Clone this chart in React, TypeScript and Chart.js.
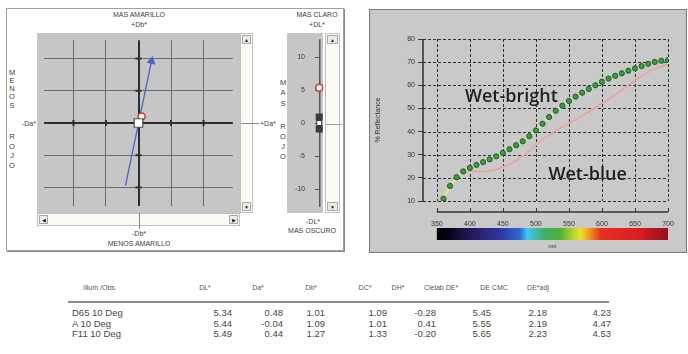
import React, { useEffect, useRef } from "react";
import { Chart, registerables } from "chart.js";
Chart.register(...registerables);

// ---------------- data ----------------
// a*b* diagram
const abGridValues = [-10, -5, 0, 5, 10];
const abRangeX = [-14.5, 14.5];
const abRangeY = [-12.85, 12.85];
const hueLineDa = [-2.0, 2.0];
const hueLineDb = [-9.7, 9.6];

// L* slider
const lTickValues = [-10, -5, 0, 5, 10];
const lTickLabels = ["-10", "-5", "0", "5", "10"];
const lRange = [-12.7, 12.7];
const standardMarksL = [-0.9, 0.9];

// reflectance curves
const wavelengths = [360, 370, 380, 390, 400, 410, 420, 430, 440, 450, 460, 470, 480, 490, 500, 510, 520, 530, 540, 550, 560, 570, 580, 590, 600, 610, 620, 630, 640, 650, 660, 670, 680, 690, 700];
const wetBright = [11.0, 16.5, 20.3, 22.8, 24.3, 25.6, 26.8, 28.0, 29.3, 30.8, 32.4, 34.1, 35.8, 38.0, 40.5, 43.4, 46.3, 49.0, 51.2, 53.2, 55.1, 56.8, 58.4, 60.0, 61.5, 62.9, 64.1, 65.2, 66.3, 67.3, 68.3, 69.3, 70.1, 70.6, 70.9];
const wetBlue = [null, null, null, 23.0, 23.0, 22.7, 22.7, 23.0, 23.7, 24.8, 26.0, 27.4, 29.3, 31.6, 34.2, 36.5, 38.5, 40.3, 42.0, 43.6, 45.1, 46.8, 48.5, 50.3, 52.2, 54.1, 56.0, 58.0, 60.0, 62.0, 63.9, 65.6, 67.0, 68.2, 69.0];
const xTickValues = [350, 400, 450, 500, 550, 600, 650, 700];
const yTickValues = [10, 20, 30, 40, 50, 60, 70, 80];
const spectrumNm = [350, 372, 400, 446, 476, 487, 514, 537, 555, 568, 583, 598, 659, 700];
const spectrumColors = ["#000000", "#0c0620", "#24185a", "#3036a0", "#2a6ad0", "#40c8f0", "#40b060", "#50b030", "#b0d030", "#f0e030", "#f08a20", "#e83020", "#d81c20", "#901020"];

// table
const tableHeaders = ["Illum./Obs.", "DL*", "Da*", "Db*", "DC*", "DH*", "Cielab DE*", "DE CMC", "DE*adj"];
const illuminants = ["D65 10 Deg", "A 10 Deg", "F11 10 Deg"];
const dL = [5.34, 5.44, 5.49];
const dA = [0.48, -0.04, 0.44];
const dB = [1.01, 1.09, 1.27];
const dC = [1.09, 1.01, 1.33];
const dH = [-0.28, 0.41, -0.2];
const deCielab = [5.45, 5.55, 5.65];
const deCmc = [2.18, 2.19, 2.23];
const deAdj = [4.23, 4.47, 4.53];

// ---------------- helpers ----------------
const FONT = '"Liberation Sans", Arial, sans-serif';

function Label(props: { x: number; y: number; text: string; size?: number; align?: string; color?: string; weight?: number }) {
  const { x, y, text, size = 7, align = "center", color = "#3c3c3c", weight = 400 } = props;
  const tf = align === "center" ? "translate(-50%,-50%)" : align === "right" ? "translate(-100%,-50%)" : "translate(0,-50%)";
  return (
    <div style={{ position: "absolute", left: x, top: y, transform: tf, fontSize: size, lineHeight: 1, color, whiteSpace: "nowrap", fontFamily: FONT, fontWeight: weight }}>
      {text}
    </div>
  );
}

function VLetters(props: { x: number; ys: number[]; letters: string }) {
  return (
    <>
      {props.letters.split("").map((ch, i) => (
        <Label key={i} x={props.x} y={props.ys[i]} text={ch} size={7.5} />
      ))}
    </>
  );
}

function ScrollBar(props: { left: number; top: number; width: number; height: number; vertical: boolean }) {
  const { left, top, width, height, vertical } = props;
  const btnBase: any = {
    position: "absolute",
    background: "#ecece4",
    border: "1px solid #a8a8a8",
    boxSizing: "border-box",
    fontSize: 5,
    color: "#222",
    display: "flex",
    alignItems: "center",
    justifyContent: "center",
    fontFamily: FONT,
  };
  return (
    <div style={{ position: "absolute", left, top, width, height, background: "#fbfbf2", border: "1px solid #c0c0c0", boxSizing: "border-box" }}>
      {vertical ? (
        <>
          <div style={{ ...btnBase, left: 1, top: 1, width: width - 4, height: 9 }}>▲</div>
          <div style={{ ...btnBase, left: 1, bottom: 1, width: width - 4, height: 9 }}>▼</div>
        </>
      ) : (
        <>
          <div style={{ ...btnBase, left: 1, top: 1, width: 9, height: height - 4 }}>◀</div>
          <div style={{ ...btnBase, right: 1, top: 1, width: 9, height: height - 4 }}>▶</div>
        </>
      )}
    </div>
  );
}

// ---------------- a*b* chart ----------------
function AbChart() {
  const ref = useRef<HTMLCanvasElement>(null);
  useEffect(() => {
    const axisMarks = {
      id: "axisMarks",
      beforeDatasetsDraw(chart: any) {
        const { ctx, scales } = chart;
        const x0 = scales.x.getPixelForValue(0);
        const y0 = scales.y.getPixelForValue(0);
        ctx.save();
        ctx.strokeStyle = "#2e2e2e";
        ctx.lineWidth = 2;
        abGridValues.forEach((v) => {
          if (v === 0) return;
          const px = scales.x.getPixelForValue(v);
          ctx.beginPath();
          ctx.moveTo(px, y0 - 3);
          ctx.lineTo(px, y0 + 3);
          ctx.stroke();
          const py = scales.y.getPixelForValue(v);
          ctx.beginPath();
          ctx.moveTo(x0 - 3, py);
          ctx.lineTo(x0 + 3, py);
          ctx.stroke();
        });
        ctx.restore();
      },
    };
    const gridColor = (c: any) => (c.tick && c.tick.value === 0 ? "#2e2e2e" : "#6c6c6c");
    const gridWidth = (c: any) => (c.tick && c.tick.value === 0 ? 2 : 1);
    const chart = new Chart(ref.current as HTMLCanvasElement, {
      type: "scatter",
      data: {
        datasets: [
          {
            data: [{ x: 0, y: 0 }],
            pointStyle: "rect",
            pointRadius: 6,
            pointBorderWidth: 1.2,
            pointBorderColor: "#505050",
            pointBackgroundColor: "#ffffff",
          },
          {
            data: [{ x: dA[0], y: dB[0] }],
            pointStyle: "circle",
            pointRadius: 3.5,
            pointBorderWidth: 1.5,
            pointBorderColor: "#c0392b",
            pointBackgroundColor: "#ffffff",
          },
          {
            data: hueLineDa.map((a, i) => ({ x: a, y: hueLineDb[i] })),
            showLine: true,
            borderColor: "#5064cc",
            borderWidth: 1.3,
            pointStyle: "triangle",
            pointRadius: [0, 4],
            pointRotation: 12,
            pointBackgroundColor: "#5064cc",
            pointBorderColor: "#5064cc",
          },
        ],
      } as any,
      plugins: [axisMarks],
      options: {
        animation: false,
        responsive: false,
        layout: { padding: 0 },
        plugins: { legend: { display: false }, tooltip: { enabled: false } },
        scales: {
          x: {
            type: "linear",
            min: abRangeX[0],
            max: abRangeX[1],
            afterBuildTicks: (a: any) => {
              a.ticks = abGridValues.map((v) => ({ value: v }));
            },
            afterFit: (a: any) => {
              a.height = 0;
            },
            ticks: { display: false },
            grid: { color: gridColor, lineWidth: gridWidth, drawTicks: false },
            border: { display: false },
          },
          y: {
            type: "linear",
            min: abRangeY[0],
            max: abRangeY[1],
            afterBuildTicks: (a: any) => {
              a.ticks = abGridValues.map((v) => ({ value: v }));
            },
            afterFit: (a: any) => {
              a.width = 0;
            },
            ticks: { display: false },
            grid: { color: gridColor, lineWidth: gridWidth, drawTicks: false },
            border: { display: false },
          },
        },
      } as any,
    });
    return () => chart.destroy();
  }, []);
  return <canvas ref={ref} width={203} height={180} style={{ position: "absolute", left: 37, top: 33, background: "#c6c6c6" }} />;
}

// ---------------- L* slider ----------------
function SliderChart() {
  const ref = useRef<HTMLCanvasElement>(null);
  useEffect(() => {
    const tickDashes = {
      id: "tickDashes",
      beforeDatasetsDraw(chart: any) {
        const { ctx, scales, chartArea } = chart;
        const x0 = scales.x.getPixelForValue(0);
        ctx.save();
        ctx.strokeStyle = "#505050";
        ctx.lineWidth = 1;
        lTickValues.forEach((v) => {
          const py = Math.round(scales.y.getPixelForValue(v)) + 0.5;
          ctx.beginPath();
          ctx.moveTo(chartArea.left, py);
          ctx.lineTo(x0, py);
          ctx.stroke();
        });
        ctx.restore();
      },
    };
    const chart = new Chart(ref.current as HTMLCanvasElement, {
      type: "scatter",
      data: {
        datasets: [
          {
            data: [{ x: 0, y: 0 }],
            pointStyle: "rect",
            pointRadius: 3.5,
            pointBorderWidth: 1,
            pointBorderColor: "#333333",
            pointBackgroundColor: "#ffffff",
          },
          {
            data: standardMarksL.map((v) => ({ x: 0, y: v })),
            pointStyle: "rect",
            pointRadius: 5,
            pointBorderWidth: 0,
            pointBackgroundColor: "#3a3a3a",
          },
          {
            data: [{ x: 0, y: dL[0] }],
            pointStyle: "circle",
            pointRadius: 3.5,
            pointBorderWidth: 1.5,
            pointBorderColor: "#c0392b",
            pointBackgroundColor: "#ffffff",
          },
        ],
      } as any,
      plugins: [tickDashes],
      options: {
        animation: false,
        responsive: false,
        layout: { padding: 0 },
        plugins: { legend: { display: false }, tooltip: { enabled: false } },
        scales: {
          x: {
            type: "linear",
            min: -1,
            max: 1,
            afterBuildTicks: (a: any) => {
              a.ticks = [{ value: 0 }];
            },
            afterFit: (a: any) => {
              a.height = 0;
            },
            ticks: { display: false },
            grid: { color: "#555555", lineWidth: 1.5, drawTicks: false },
            border: { display: false },
          },
          y: {
            type: "linear",
            min: lRange[0],
            max: lRange[1],
            afterBuildTicks: (a: any) => {
              a.ticks = lTickValues.map((v) => ({ value: v }));
            },
            afterFit: (a: any) => {
              a.width = 28;
            },
            ticks: {
              display: true,
              padding: 2,
              color: "#3a3a3a",
              font: { family: FONT, size: 7 },
              callback: (v: any) => lTickLabels[lTickValues.indexOf(v)],
            },
            grid: { display: false },
            border: { display: false },
          },
        },
      } as any,
    });
    return () => chart.destroy();
  }, []);
  return <canvas ref={ref} width={42} height={180} style={{ position: "absolute", left: 287, top: 33 }} />;
}

// ---------------- reflectance chart ----------------
function ReflectanceChart() {
  const ref = useRef<HTMLCanvasElement>(null);
  useEffect(() => {
    const decorations = {
      id: "decorations",
      beforeDatasetsDraw(chart: any) {
        const { ctx, chartArea, scales } = chart;
        ctx.save();
        // dashed grid
        ctx.strokeStyle = "#303030";
        ctx.lineWidth = 1;
        ctx.setLineDash([3, 2]);
        xTickValues.forEach((v) => {
          const px = Math.round(scales.x.getPixelForValue(v)) + 0.5;
          ctx.beginPath();
          ctx.moveTo(px, chartArea.top);
          ctx.lineTo(px, chartArea.bottom);
          ctx.stroke();
        });
        yTickValues.forEach((v) => {
          const py = Math.round(scales.y.getPixelForValue(v)) + 0.5;
          ctx.beginPath();
          ctx.moveTo(chartArea.left, py);
          ctx.lineTo(chartArea.right, py);
          ctx.stroke();
        });
        ctx.setLineDash([]);
        // solid left axis
        ctx.strokeStyle = "#2a2a2a";
        ctx.lineWidth = 1.5;
        ctx.beginPath();
        ctx.moveTo(chartArea.left, chartArea.top);
        ctx.lineTo(chartArea.left, chartArea.bottom);
        ctx.stroke();
        ctx.restore();
      },
      afterDraw(chart: any) {
        const { ctx, chartArea, scales } = chart;
        const xs = scales.x;
        const x0 = xs.getPixelForValue(spectrumNm[0]);
        const x1 = xs.getPixelForValue(spectrumNm[spectrumNm.length - 1]);
        const ay = chartArea.bottom + 11;
        ctx.save();
        ctx.strokeStyle = "#333333";
        ctx.lineWidth = 1.5;
        ctx.beginPath();
        ctx.moveTo(x0, ay);
        ctx.lineTo(x1, ay);
        ctx.stroke();
        ctx.lineWidth = 1;
        xTickValues.forEach((v) => {
          const px = Math.round(xs.getPixelForValue(v)) + 0.5;
          ctx.beginPath();
          ctx.moveTo(px, ay);
          ctx.lineTo(px, ay - 4);
          ctx.stroke();
        });
        const g = ctx.createLinearGradient(x0, 0, x1, 0);
        spectrumNm.forEach((nm, i) => {
          g.addColorStop((nm - spectrumNm[0]) / (spectrumNm[spectrumNm.length - 1] - spectrumNm[0]), spectrumColors[i]);
        });
        ctx.fillStyle = g;
        ctx.fillRect(x0, chartArea.bottom + 27, x1 - x0, 12);
        ctx.fillStyle = "#333333";
        ctx.font = "6px " + FONT;
        ctx.textAlign = "center";
        ctx.textBaseline = "middle";
        ctx.fillText("nm", xs.getPixelForValue(525), chartArea.bottom + 45);

        // annotations
        const ys = scales.y;
        ctx.fillStyle = "#1e1e1e";
        ctx.font = '600 18px "Open Sans", sans-serif';
        ctx.textAlign = "left";
        ctx.textBaseline = "alphabetic";
        ctx.fillText("Wet-bright", xs.getPixelForValue(392.5), ys.getPixelForValue(52.8));
        ctx.fillText("Wet-blue", xs.getPixelForValue(519), ys.getPixelForValue(19.1));
        ctx.restore();
      },
    };
    const chart = new Chart(ref.current as HTMLCanvasElement, {
      type: "scatter",
      data: {
        datasets: [
          {
            label: "Wet-bright",
            data: wavelengths.map((w, i) => ({ x: w, y: wetBright[i] })),
            showLine: true,
            borderColor: "#d6e39a",
            borderWidth: 3,
            pointStyle: "circle",
            pointRadius: 2.6,
            pointBorderWidth: 1,
            pointBackgroundColor: "#3f9a45",
            pointBorderColor: "#1e5a2a",
          },
          {
            label: "Wet-blue",
            data: wavelengths.map((w, i) => ({ x: w, y: wetBlue[i] })),
            showLine: true,
            spanGaps: false,
            borderColor: "#eba5a0",
            borderWidth: 1.8,
            pointRadius: 0,
          },
        ],
      } as any,
      plugins: [decorations],
      options: {
        animation: false,
        responsive: false,
        layout: { padding: { left: 0, top: 29, right: 18, bottom: 0 } },
        plugins: { legend: { display: false }, tooltip: { enabled: false } },
        scales: {
          x: {
            type: "linear",
            min: 329,
            max: 700,
            afterBuildTicks: (a: any) => {
              a.ticks = xTickValues.map((v) => ({ value: v }));
            },
            afterFit: (a: any) => {
              a.height = 51;
            },
            ticks: { display: true, padding: 11, color: "#333333", font: { family: FONT, size: 7 }, maxRotation: 0 },
            grid: { display: false },
            border: { display: false },
          },
          y: {
            type: "linear",
            min: 10,
            max: 80,
            afterBuildTicks: (a: any) => {
              a.ticks = yTickValues.map((v) => ({ value: v }));
            },
            afterFit: (a: any) => {
              a.width = 53;
            },
            title: { display: true, text: "% Reflectance", color: "#333333", font: { family: FONT, size: 7 }, padding: { top: 4, bottom: 0 } },
            ticks: { display: true, padding: 3, color: "#333333", font: { family: FONT, size: 7 } },
            grid: { color: "#333333", lineWidth: 1, drawOnChartArea: false, drawTicks: true, tickLength: 5, tickColor: "#333333" },
            border: { display: false },
          },
        },
      } as any,
    });
    return () => chart.destroy();
  }, []);
  return <canvas ref={ref} width={316} height={242} style={{ position: "absolute", left: 0, top: 0 }} />;
}

// ---------------- table ----------------
const headerX = [100, 205, 258, 311, 365, 398, 441, 494, 538];
const valueRight = [232, 283, 325, 387, 436, 491, 547, 611];
const rowY = [313, 323.5, 334];

function ResultsTable() {
  const cols = [dL, dA, dB, dC, dH, deCielab, deCmc, deAdj];
  return (
    <>
      {tableHeaders.map((h, i) => (
        <Label key={"h" + i} x={headerX[i]} y={287} text={h} size={7} color="#555" />
      ))}
      <div style={{ position: "absolute", left: 68, top: 301, width: 541, height: 2, background: "#8a8a8a" }} />
      {illuminants.map((name, r) => (
        <React.Fragment key={"r" + r}>
          <Label x={72} y={rowY[r]} text={name} size={9.5} align="left" color="#474747" />
          {cols.map((col, c) => (
            <Label key={c} x={valueRight[c]} y={rowY[r]} text={col[r].toFixed(2)} size={9.5} align="right" color="#474747" />
          ))}
        </React.Fragment>
      ))}
    </>
  );
}

// ---------------- app ----------------
export default function App() {
  return (
    <div style={{ position: "absolute", left: 0, top: 0, width: 688, height: 354, background: "#ffffff", overflow: "hidden", fontFamily: FONT }}>
      {/* left panel */}
      <div style={{ position: "absolute", left: 6, top: 8, width: 336, height: 241, border: "1px solid #a0a0a0", boxShadow: "1px 1px 0 #8a8a8a", background: "#ffffff" }} />
      <Label x={139} y={14} text="MAS AMARILLO" />
      <Label x={139} y={24} text="+Db*" />
      <Label x={139} y={233} text="-Db*" />
      <Label x={139} y={243} text="MENOS AMARILLO" />
      <Label x={36} y={123} text="-Da*" align="right" />
      <VLetters x={12} ys={[73, 81, 89, 97, 106, 137, 147, 156, 166]} letters="MENOSROJO" />
      <AbChart />
      <ScrollBar left={37} top={213} width={203} height={13} vertical={false} />
      <ScrollBar left={240} top={33} width={13} height={180} vertical={true} />
      <div style={{ position: "absolute", left: 139, top: 213, width: 1, height: 16, background: "#8a8a8a" }} />
      <div style={{ position: "absolute", left: 241, top: 123, width: 18, height: 1, background: "#8a8a8a" }} />
      <Label x={260} y={123} text="+Da*" align="left" />
      <VLetters x={283} ys={[83, 93, 104, 127, 137, 147, 157]} letters="MASROJO" />
      <div style={{ position: "absolute", left: 287, top: 33, width: 36, height: 180, background: "#c6c6c6" }} />
      <ScrollBar left={325} top={33} width={15} height={180} vertical={true} />
      <div style={{ position: "absolute", left: 326, top: 124, width: 16, height: 1, background: "#9a9a9a" }} />
      <SliderChart />
      <Label x={317} y={14} text="MAS CLARO" />
      <Label x={317} y={24} text="+DL*" />
      <Label x={313} y={221} text="-DL*" />
      <Label x={312} y={230} text="MAS OSCURO" />

      {/* right panel */}
      <div style={{ position: "absolute", left: 369, top: 9, width: 316, height: 242, border: "1px solid #7a7a7a", background: "#c9c9c9" }}>
        <ReflectanceChart />
      </div>

      <ResultsTable />
    </div>
  );
}
